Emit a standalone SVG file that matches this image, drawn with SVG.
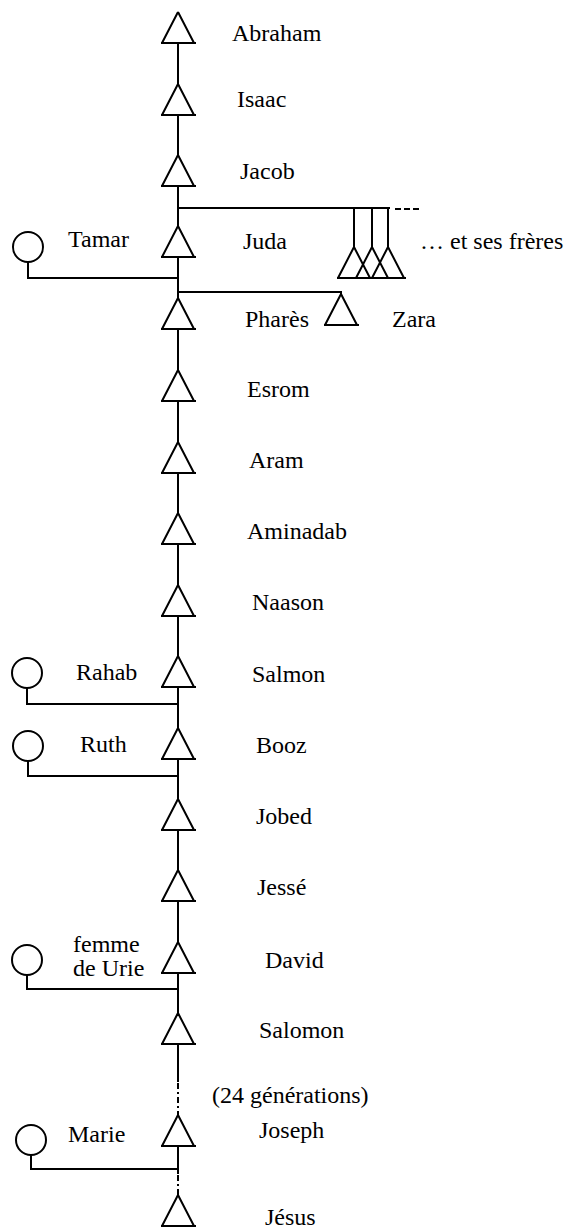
<svg xmlns="http://www.w3.org/2000/svg" width="565" height="1231" viewBox="0 0 565 1231">
  <style>
    .ln { fill: none; stroke: #000; stroke-width: 2; }
    .dash { fill: none; stroke: #000; stroke-width: 2; stroke-dasharray: 6 3 2 3; }
    .female { fill: #fff; stroke: #000; stroke-width: 2; }
    text { font-family: 'Liberation Serif', 'Times New Roman', serif; font-size: 24px; fill: #000; }
  </style>
  <defs>
    <!-- male symbol: open triangle, apex at the origin, base slightly extended -->
    <path id="tri" d="M0,0 L-16,31 M0,0 L16,31 M-17,31 L18,31" />
  </defs>

  <rect width="565" height="1231" fill="#fff"/>

  <g id="connectors">
    <!-- main line of descent -->
    <path class="ln" d="M178,43 V84 M178,115 V155 M178,186 V226 M178,257 V298 M178,329 V370 M178,401 V442 M178,473 V513 M178,544 V585 M178,616 V656 M178,687 V728 M178,759 V799 M178,830 V870 M178,901 V942 M178,973 V1013 M178,1044 V1082 M178,1146 V1174"/>
    <path class="dash" d="M178,1083 V1115 M178,1175 V1195"/>
    <!-- Juda and his brothers -->
    <path class="ln" d="M178,208 H390 M354,208 V247 M372,208 V247 M388,208 V247"/>
    <path class="ln" d="M395,209 H421" stroke-dasharray="6 3"/>
    <!-- Pharès and Zara -->
    <path class="ln" d="M178,292 H341 V294"/>
    <!-- spouses -->
    <path class="ln" d="M28,262 V278 H178"/>
    <path class="ln" d="M27,688 V704 H178"/>
    <path class="ln" d="M28,761 V776 H178"/>
    <path class="ln" d="M27,975 V989 H178"/>
    <path class="ln" d="M31,1155 V1169 H178"/>
  </g>

  <g id="abraham"><use href="#tri" class="ln" x="178" y="12"/><text x="232" y="41">Abraham</text></g>
  <g id="isaac"><use href="#tri" class="ln" x="178" y="84"/><text x="237" y="107">Isaac</text></g>
  <g id="jacob"><use href="#tri" class="ln" x="178" y="155"/><text x="240" y="179">Jacob</text></g>
  <g id="juda"><use href="#tri" class="ln" x="178" y="226"/><text x="243" y="249">Juda</text></g>
  <g id="freres">
    <use href="#tri" class="ln" x="354" y="247"/>
    <use href="#tri" class="ln" x="372" y="247"/>
    <use href="#tri" class="ln" x="388" y="247"/>
    <text x="420" y="249">… et ses frères</text>
  </g>
  <g id="tamar"><circle class="female" cx="28" cy="247" r="15"/><text x="68" y="247">Tamar</text></g>
  <g id="phares"><use href="#tri" class="ln" x="178" y="298"/><text x="245" y="327">Pharès</text></g>
  <g id="zara"><use href="#tri" class="ln" x="341" y="294"/><text x="392" y="327">Zara</text></g>
  <g id="esrom"><use href="#tri" class="ln" x="178" y="370"/><text x="247" y="397">Esrom</text></g>
  <g id="aram"><use href="#tri" class="ln" x="178" y="442"/><text x="249" y="468">Aram</text></g>
  <g id="aminadab"><use href="#tri" class="ln" x="178" y="513"/><text x="247" y="539">Aminadab</text></g>
  <g id="naason"><use href="#tri" class="ln" x="178" y="585"/><text x="252" y="610">Naason</text></g>
  <g id="salmon"><use href="#tri" class="ln" x="178" y="656"/><text x="252" y="682">Salmon</text></g>
  <g id="rahab"><circle class="female" cx="27" cy="673" r="15"/><text x="76" y="680">Rahab</text></g>
  <g id="booz"><use href="#tri" class="ln" x="178" y="728"/><text x="256" y="753">Booz</text></g>
  <g id="ruth"><circle class="female" cx="28" cy="746" r="15"/><text x="80" y="752">Ruth</text></g>
  <g id="jobed"><use href="#tri" class="ln" x="178" y="799"/><text x="256" y="824">Jobed</text></g>
  <g id="jesse"><use href="#tri" class="ln" x="178" y="870"/><text x="257" y="895">Jessé</text></g>
  <g id="david"><use href="#tri" class="ln" x="178" y="942"/><text x="265" y="968">David</text></g>
  <g id="femme-urie"><circle class="female" cx="27" cy="960" r="15"/><text x="73" y="952">femme</text><text x="73" y="976">de Urie</text></g>
  <g id="salomon"><use href="#tri" class="ln" x="178" y="1013"/><text x="259" y="1038">Salomon</text></g>
  <g id="generations"><text x="212" y="1103">(24 générations)</text></g>
  <g id="joseph"><use href="#tri" class="ln" x="178" y="1115"/><text x="259" y="1138">Joseph</text></g>
  <g id="marie"><circle class="female" cx="31" cy="1140" r="15"/><text x="68" y="1142">Marie</text></g>
  <g id="jesus"><use href="#tri" class="ln" x="178" y="1195"/><text x="265" y="1225">Jésus</text></g>
</svg>
